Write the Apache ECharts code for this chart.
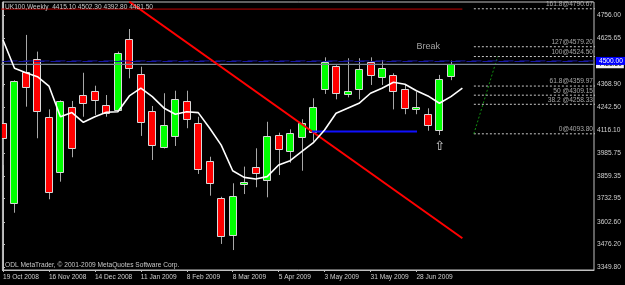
<!DOCTYPE html>
<html><head><meta charset="utf-8">
<script src="https://cdn.jsdelivr.net/npm/echarts@6/dist/echarts.min.js"></script>
<style>html,body{margin:0;padding:0;background:#000}#c{width:625px;height:285px}</style>
</head><body><div id="c"></div>
<script>
const dates = ['19 Oct 2008','26 Oct 2008','2 Nov 2008','9 Nov 2008','16 Nov 2008','23 Nov 2008','30 Nov 2008','7 Dec 2008','14 Dec 2008','21 Dec 2008','28 Dec 2008','4 Jan 2009','11 Jan 2009','18 Jan 2009','25 Jan 2009','1 Feb 2009','8 Feb 2009','15 Feb 2009','22 Feb 2009','1 Mar 2009','8 Mar 2009','15 Mar 2009','22 Mar 2009','29 Mar 2009','5 Apr 2009','12 Apr 2009','19 Apr 2009','26 Apr 2009','3 May 2009','10 May 2009','17 May 2009','24 May 2009','31 May 2009','7 Jun 2009','14 Jun 2009','21 Jun 2009','28 Jun 2009','5 Jul 2009','12 Jul 2009','19 Jul 2009'];
const opens  = [4152,3707,4437,4509,4189,3883,4245,4308,4331,4253,4227,4621,4426,4221,4019,4083,4275,4152,3941,3734,3530,3814,3911,3836,4087,3998,4074,4106,4344,4473,4316,4342,4496,4412,4422,4342,4230,4203,4115,4415.10];
const highs  = [4356,4392,4645,4552,4230,4280,4277,4434,4362,4310,4552,4678,4468,4249,4320,4334,4334,4189,3966,3743,3818,3911,4013,4161,4100,4119,4175,4292,4520,4476,4515,4515,4520,4505,4431,4366,4329,4236,4422,4502.30];
const lows   = [3920,3654,4245,4069,3729,3827,3963,4189,4199,4189,4224,4403,4082,3948,4012,4026,4125,3870,3749,3480,3446,3758,3796,3740,3864,3933,3888,4050,4316,4286,4297,4286,4366,4366,4230,4203,4203,4111,4087,4392.80];
const closes = [4069,4388,4353,4221,3771,4277,4016,4264,4282,4212,4543,4459,4161,4031,4141,4286,4175,3896,3818,3524,3749,3827,3877,4082,4008,4097,4152,4245,4492,4320,4334,4453,4422,4459,4332,4236,4242,4143,4398,4481.50];
const maValues = [4617,4459,4434,4412,4360,4189,4212,4158,4189,4214,4217,4305,4348,4301,4238,4203,4217,4212,4125,4031,3888,3851,3842,3855,3920,3944,3994,4043,4115,4208,4236,4264,4320,4348,4381,4370,4334,4305,4264,4301,4348];
const priceTicks = [4756.00,4625.65,4368.90,4242.50,4116.10,3985.75,3859.35,3732.95,3602.60,3476.20,3349.80];
const dateTickIdx = [0,4,8,12,16,20,24,28,32,36];
const fibLevels = [4790.67,4579.20,4524.50,4359.97,4309.15,4258.33,4093.80];
const fibLabels = ['161.8@4790.67','127@4579.20','100@4524.50','61.8@4359.97','50 @4309.15','38.2 @4258.33','0@4093.80'];
const markedLevel = 4500.00;
const bidPrice = 4481.50;
const topLine = 4789;
const trendLine = [[11.0,4830],[40.0,3512]];
const supportLine = [[26.9,4106.7],[36.05,4106.7]];
const fibTrend = [[41.0,4093.80],[43.07,4524.50]];
const titleText = 'UK100,Weekly  4415.10 4502.30 4392.80 4481.50';
const copyText = 'ODL MetaTrader, \u00a9 2001-2009 MetaQuotes Software Corp.';

const FONT = '"Liberation Sans", Arial, sans-serif';
const FS = 6.6;
const chart = echarts.init(document.getElementById('c'), null, {renderer:'canvas'});

const candleData = opens.map((o,i)=>[i,o,closes[i],lows[i],highs[i]]);
const maData = maValues.map((v,i)=>[i,v]);

const series = [];
series.push({
  type:'custom', clip:true, z:2,
  data:candleData,
  encode:{x:0,y:[1,2,3,4]},
  renderItem:function(params, api){
    const k=api.value(0),o=api.value(1),c=api.value(2),l=api.value(3),h=api.value(4);
    const pO=api.coord([k,o]),pC=api.coord([k,c]),pH=api.coord([k,h]),pL=api.coord([k,l]);
    const x=Math.round(pO[0])+0.5;
    const top=Math.round(Math.min(pO[1],pC[1]))+0.5;
    const bot=Math.round(Math.max(pO[1],pC[1]))+0.5;
    const up=c>=o;
    return {type:'group',children:[
      {type:'line',shape:{x1:x,y1:pH[1],x2:x,y2:pL[1]},style:{stroke:'#a8a8a8',lineWidth:1}},
      {type:'rect',shape:{x:x-4,y:top,width:7,height:Math.max(bot-top,1)},style:{fill:up?'#00ff00':'#ff0000',stroke:'#d8d8d8',lineWidth:1}}
    ]};
  }
});
series.push({
  type:'line', data:[[-1,bidPrice],[53,bidPrice]], symbol:'none', z:3, silent:true,
  lineStyle:{color:'#7a8796',width:1},
  markLine:{symbol:'none',silent:true,data:[{yAxis:bidPrice}],
    lineStyle:{color:'#7a8796',width:1,type:'solid'},
    label:{show:true,position:'end',distance:2,formatter:'4481.50',color:'#000',backgroundColor:'#f0f0f0',padding:[1,2,0,2],fontSize:FS,fontFamily:FONT}}
});
series.push({
  type:'line', data:[[-1,markedLevel],[53,markedLevel]], symbol:'none', z:4, silent:true,
  lineStyle:{color:'#1a1aa8',width:1,type:[10,6]},
  markLine:{symbol:'none',silent:true,data:[{yAxis:markedLevel}],
    lineStyle:{color:'#1a1aa8',width:1,type:[10,6]},
    label:{show:true,position:'end',distance:2,formatter:'4500.00',color:'#fff',backgroundColor:'#0000ff',padding:[1,3,0,3],fontSize:FS,fontFamily:FONT}}
});
series.push({type:'line',data:[[-1,topLine],[40,topLine]],symbol:'none',z:3,lineStyle:{color:'#c00000',width:1}});
series.push({type:'line',data:trendLine,symbol:'none',z:5,lineStyle:{color:'#ff0000',width:2}});
series.push({type:'line',data:supportLine,symbol:'none',z:5,lineStyle:{color:'#1010ff',width:2}});
series.push({type:'line',data:maData,symbol:'none',z:6,smooth:false,lineStyle:{color:'#ffffff',width:1.6}});
fibLevels.forEach(v=>{
  series.push({type:'line',data:[[41.0,v],[53,v]],symbol:'none',z:3,lineStyle:{color:'#c8c8c8',width:1,type:[2,2]}});
});
series.push({type:'line',data:fibTrend,symbol:'none',z:3,lineStyle:{color:'#109010',width:1,type:[2,2]}});
series.push({
  type:'scatter', symbolSize:0, z:7, silent:true,
  data:fibLevels.map((v,i)=>[51.37,v,i]),
  label:{show:true,position:[0,0],align:'right',verticalAlign:'bottom',offset:[0,-1],
    formatter:p=>fibLabels[p.data[2]],color:'#d0d0d0',fontSize:FS,fontFamily:FONT}
});
series.push({
  type:'scatter', symbolSize:0, z:7, silent:true,
  data:[[37.02,4579.3,0]],
  label:{show:true,position:[0,0],align:'center',verticalAlign:'middle',
    formatter:'Break',color:'#c8c8c8',fontSize:9,fontFamily:FONT}
});
series.push({
  type:'scatter', symbolSize:0, z:7, silent:true,
  data:[[38.02,4020.3,1]],
  label:{show:true,position:[0,0],align:'center',verticalAlign:'middle',
    formatter:'\u21e7',color:'#ffffff',fontSize:13,fontFamily:'"DejaVu Sans", sans-serif'}
});

chart.setOption({
  backgroundColor:'#000',
  animation:false,
  grid:{left:2,right:31,top:2,bottom:15,show:true,borderColor:'#c0c0c0',borderWidth:1,backgroundColor:'#000'},
  xAxis:{type:'value',min:-0.05,max:51.46,
    axisLine:{show:true,lineStyle:{color:'#c0c0c0'}},
    splitLine:{show:false},
    axisTick:{show:true,customValues:dateTickIdx,length:2,lineStyle:{color:'#c0c0c0'}},
    axisLabel:{show:true,customValues:dateTickIdx,align:'left',margin:4,color:'#d0d0d0',fontSize:FS,fontFamily:FONT,
      formatter:v=>dates[Math.round(v)]||''}
  },
  yAxis:{type:'value',position:'right',min:3334.75,max:4828.46,
    axisLine:{show:true,lineStyle:{color:'#c0c0c0'}},
    splitLine:{show:false},
    axisTick:{show:true,customValues:priceTicks,length:2,lineStyle:{color:'#c0c0c0'}},
    axisLabel:{show:true,customValues:priceTicks,margin:3,color:'#d0d0d0',fontSize:FS,fontFamily:FONT,
      formatter:v=>v.toFixed(2)}
  },
  graphic:[
    {type:'text',left:5,top:4,z:100,style:{text:titleText,fill:'#c8c8c8',font:FS+'px '+FONT}},
    {type:'text',left:5,top:262,z:100,style:{text:copyText,fill:'#c8c8c8',font:FS+'px '+FONT}}
  ],
  series:series
});
</script></body></html>
